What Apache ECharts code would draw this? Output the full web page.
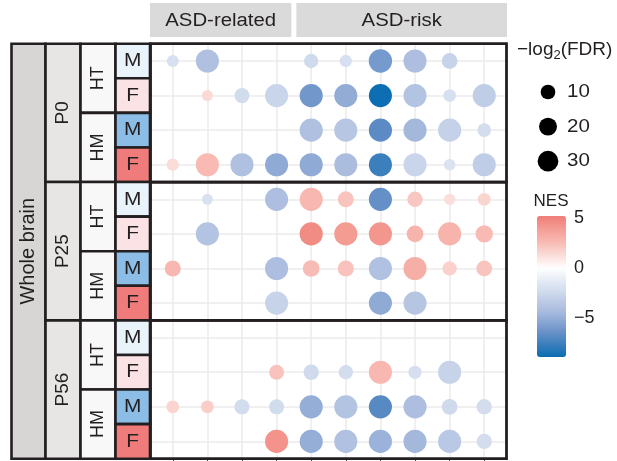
<!DOCTYPE html>
<html>
<head>
<meta charset="utf-8">
<script src="https://cdn.jsdelivr.net/npm/echarts@6/dist/echarts.min.js"></script>
<style>
  html, body { margin: 0; background: #fff; }
  #chart { width: 617px; height: 461px; }
</style>
</head>
<body>
<div id="chart"></div>
<script>
// labels
const region = "Whole brain";
const ages = ["P0", "P25", "P56"];
const genotypes = ["HT", "HM"];
const sexes = ["M", "F"];
const groups = ["ASD-related", "ASD-risk"];
const groupSizes = [4, 6];
const nesTicks = [-5, 0, 5];
const sizeTicks = [10, 20, 30];

// NES per row (HT-M, HT-F, HM-M, HM-F), 10 gene sets each; null = not shown
const nesP0 = [
  [-2.0, -4.0, null, null, -2.4, -2.0, -6.0, -4.1, -2.8, null],
  [null, 1.4, -2.3, -2.7, -6.1, -5.1, -8.8, -3.8, -2.0, -3.2],
  [null, null, null, null, -4.0, -3.6, -6.8, -4.5, -2.9, -2.2],
  [1.3, 2.6, -4.0, -5.2, -5.2, -4.2, -7.6, -2.7, -1.8, -3.2]
];
const nesP25 = [
  [null, -1.9, null, -4.1, 2.7, 2.2, -6.5, 2.1, 1.2, 1.6],
  [null, -3.8, null, null, 4.6, 4.0, 4.2, 2.9, 2.9, 2.6],
  [2.7, null, null, -4.1, 2.5, 2.3, -3.9, 3.1, 1.7, 2.2],
  [null, null, null, -2.8, null, null, -5.2, -3.7, null, null]
];
const nesP56 = [
  [null, null, null, null, null, null, null, null, null, null],
  [null, null, null, 2.3, -2.4, -2.2, 2.7, -2.1, -2.8, null],
  [1.6, 1.9, -2.3, -2.3, -5.0, -3.8, -6.9, -4.1, -2.4, -2.2],
  [null, null, null, 4.3, -5.0, -3.9, -4.8, -4.5, -3.5, -2.2]
];

// -log2(FDR) per row
const fdrP0 = [
  [3, 40, null, null, 9, 4, 41, 40, 13, null],
  [null, 1, 11, 40, 40, 40, 40, 40, 5, 40],
  [null, null, null, null, 40, 40, 40, 40, 40, 7],
  [4, 40, 40, 40, 40, 40, 40, 40, 2.5, 40]
];
const fdrP25 = [
  [null, 1, null, 40, 40, 14, 40, 12, 1.7, 5],
  [null, 40, null, null, 40, 40, 40, 16, 40, 18],
  [14, null, null, 40, 16, 14, 40, 40, 9, 13],
  [null, null, null, 40, null, null, 40, 40, null, null]
];
const fdrP56 = [
  [null, null, null, null, null, null, null, null, null, null],
  [null, null, null, 11, 12, 9, 40, 6, 40, null],
  [5, 5, 11, 11, 40, 40, 40, 40, 13, 12],
  [null, null, null, 40, 40, 40, 40, 40, 40, 12]
];

const nesMin = -8.9;
const nesMax = 5.2;

const FONT = "'Liberation Sans', Arial, sans-serif";
const INK = "#231f20";

// colour ramp for NES
const rampAt = [-8.9, -6.7, -4.45, -2.2, 0, 1.3, 2.6, 3.9, 5.2];
const rampColors = ["#0a6cb2", "#5f8cc5", "#a6b9dd", "#d3ddee", "#ffffff", "#fbdcd8", "#f8bab3", "#f49d94", "#ef7e78"];

function hexToRgb(h) {
  return [1, 3, 5].map(i => parseInt(h.slice(i, i + 2), 16));
}
function nesColor(v) {
  let i = 0;
  while (i < rampAt.length - 2 && v > rampAt[i + 1]) i++;
  const t = Math.max(0, Math.min(1, (v - rampAt[i]) / (rampAt[i + 1] - rampAt[i])));
  const a = hexToRgb(rampColors[i]);
  const b = hexToRgb(rampColors[i + 1]);
  const c = a.map((x, k) => Math.round(x + (b[k] - x) * t));
  return "rgb(" + c.join(",") + ")";
}
const rampList = [];
for (let k = 0; k <= 56; k++) rampList.push(nesColor(nesMin + (nesMax - nesMin) * k / 56));

const dotSize = v => Math.sqrt(110 + 10.6 * v);

const nesRows = [...nesP0, ...nesP25, ...nesP56];
const fdrRows = [...fdrP0, ...fdrP25, ...fdrP56];
const colVals = nesRows[0].map((_, c) => c + 1);
const rowVals = nesRows.map((_, r) => r + 1);

const points = [];
nesRows.forEach((row, r) => {
  row.forEach((v, c) => {
    if (v !== null) points.push([c + 1, r + 1, v, fdrRows[r][c]]);
  });
});

const chart = echarts.init(document.getElementById("chart"));

chart.setOption({
  animation: false,
  grid: [
    { left: 152, top: 43.7, width: 353, height: 415 },
    { left: 537, top: 216, width: 29, height: 141 }
  ],
  xAxis: [
    {
      type: "value", gridIndex: 0, min: 0.4, max: 10.6,
      axisLine: { show: false },
      axisLabel: { show: false },
      axisTick: { show: true, length: 4, customValues: colVals, lineStyle: { color: "#444" } },
      splitLine: { show: true, lineStyle: { color: "#ebebeb", width: 1.5 } }
    },
    { type: "value", gridIndex: 1, show: false }
  ],
  yAxis: [
    {
      type: "value", gridIndex: 0, min: 0.5, max: 12.5, inverse: true,
      axisLine: { show: false },
      axisLabel: { show: false },
      axisTick: { show: true, length: 3, customValues: rowVals, lineStyle: { color: "#444" } },
      splitLine: { show: true, lineStyle: { color: "#ebebeb", width: 1.5 } }
    },
    {
      type: "value", gridIndex: 1, min: nesMin, max: nesMax, position: "right", z: 10,
      axisLine: { show: false },
      splitLine: { show: false },
      axisTick: { show: true, inside: true, length: 5, customValues: nesTicks, lineStyle: { color: "#fff", width: 1.5 } },
      axisLabel: {
        customValues: nesTicks, margin: 8, fontSize: 18, fontFamily: FONT, color: INK,
        formatter: v => String(v).replace("-", "\u2212")
      }
    }
  ],
  visualMap: {
    type: "continuous", seriesIndex: 0, dimension: 2,
    min: nesMin, max: nesMax, calculable: false, hoverLink: false,
    text: ["", ""], orient: "vertical",
    left: 537, top: 216, itemWidth: 29, itemHeight: 141, padding: 0, z: 2,
    inRange: { color: rampList }
  },
  series: [{
    type: "scatter", xAxisIndex: 0, yAxisIndex: 0, z: 3,
    symbolSize: val => dotSize(val[3]),
    itemStyle: { opacity: 1 },
    emphasis: { disabled: true },
    data: points
  }]
});

// strips, borders and legend pieces placed from the axis scale
const px = (x, y) => chart.convertToPixel({ gridIndex: 0 }, [x, y]);
const [pl, pt] = px(0.4, 0.5);
const [pr, pb] = px(10.6, 12.5);
const rowY = r => px(1, r)[1];
const bandTop = r => px(1, r - 0.5)[1];
const g = [];

function cell(x0, y0, x1, y1, fill) {
  g.push({
    type: "rect", z: 20,
    shape: { x: x0, y: y0, width: x1 - x0, height: y1 - y0 },
    style: { fill: fill, stroke: INK, lineWidth: 2.6 }
  });
}
function label(x, y, text, size, rot, scaleX) {
  g.push({
    type: "text", z: 21, x: x, y: y, rotation: rot ? Math.PI / 2 : 0,
    scaleX: scaleX || 1,
    style: { text: text, fill: INK, font: size + "px " + FONT, align: "center", verticalAlign: "middle" }
  });
}

// top strips
let startCol = 1;
groups.forEach((name, i) => {
  const endCol = startCol + groupSizes[i] - 1;
  const x0 = i === 0 ? pl - 2 : px(startCol - 0.5, 1)[0] + 2.5;
  const x1 = i === groups.length - 1 ? pr + 2 : px(endCol + 0.5, 1)[0] - 2.5;
  g.push({ type: "rect", z: 20, shape: { x: x0, y: 3, width: x1 - x0, height: 34 }, style: { fill: "#dadada" } });
  label((x0 + x1) / 2, 21, name, 18, false, 1.13);
  startCol = endCol + 1;
});

// left strips
const sx = [11.5, 45.5, 80.5, 115.5, 150];
const sexFill = { HT: ["#e9f3fa", "#fbe3e5"], HM: ["#8bbde6", "#f07b7b"] };
cell(sx[0], pt, sx[1], pb, "#d8d6d4");
label((sx[0] + sx[1]) / 2, (pt + pb) / 2, region, 20, true);
ages.forEach((age, a) => {
  const r0 = a * 4 + 1;
  cell(sx[1], bandTop(r0), sx[2], bandTop(r0 + 4), "#e7e6e4");
  label((sx[1] + sx[2]) / 2, (bandTop(r0) + bandTop(r0 + 4)) / 2, age, 19, true);
  genotypes.forEach((gt, k) => {
    const r1 = r0 + k * 2;
    cell(sx[2], bandTop(r1), sx[3], bandTop(r1 + 2), "#f8f8f8");
    label((sx[2] + sx[3]) / 2, (bandTop(r1) + bandTop(r1 + 2)) / 2, gt, 18, true);
    sexes.forEach((s, m) => {
      const r2 = r1 + m;
      cell(sx[3], bandTop(r2), sx[4], bandTop(r2 + 1), sexFill[gt][m]);
      label((sx[3] + sx[4]) / 2, rowY(r2), s, 19, false, 1.1);
    });
  });
});

// panel borders
ages.forEach((age, a) => {
  const y0 = bandTop(a * 4 + 1);
  const y1 = bandTop(a * 4 + 5);
  g.push({
    type: "rect", z: 20,
    shape: { x: pl - 1.5, y: y0, width: pr - pl + 3, height: y1 - y0 },
    style: { fill: "none", stroke: INK, lineWidth: 2.8 }
  });
});

// size legend
g.push({
  type: "text", z: 21, x: 517, y: 50,
  style: {
    text: "{a|\u2212log}{s|2}{a|(FDR)}", fill: INK,
    rich: {
      a: { fontSize: 19, fontFamily: FONT, fill: INK, lineHeight: 24, verticalAlign: "middle" },
      s: { fontSize: 13, fontFamily: FONT, fill: INK, lineHeight: 24, verticalAlign: "bottom" }
    },
    verticalAlign: "middle"
  }
});
sizeTicks.forEach((v, i) => {
  const cy = 92 + i * 34.6;
  g.push({ type: "circle", z: 21, shape: { cx: 548, cy: cy, r: dotSize(v) / 2 }, style: { fill: "#000" } });
  g.push({
    type: "text", z: 21, x: 567, y: cy, scaleX: 1.08,
    style: { text: String(v), fill: INK, font: "19px " + FONT, verticalAlign: "middle" }
  });
});
label(551, 201, "NES", 17, false, 1.0);

chart.setOption({ graphic: g });
</script>
</body>
</html>
